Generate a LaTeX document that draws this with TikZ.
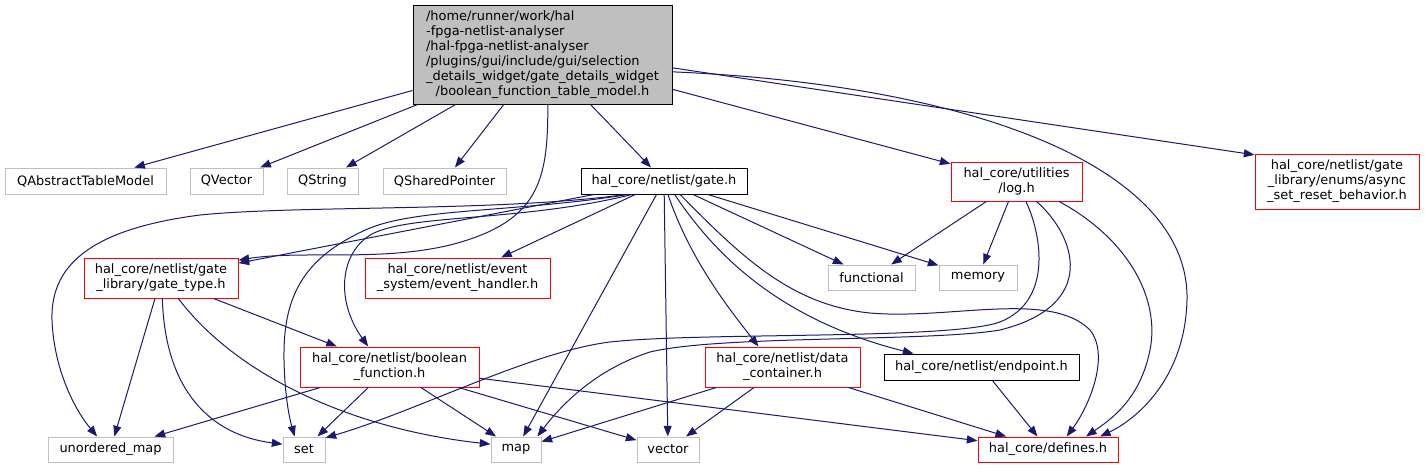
\documentclass[tikz,border=0pt]{standalone}
\usepackage{fontspec}
\setmainfont{DejaVu Sans}
\usepackage{xcolor}
\usepackage{tikz}
\usetikzlibrary{arrows.meta}
\definecolor{edgeblue}{HTML}{191970}
\definecolor{grey75}{HTML}{BFBFBF}

\begin{document}
\begin{tikzpicture}[
    x=0.75pt, y=-0.75pt,
    every node/.style={draw, inner sep=0pt, line width=0.75pt, align=center, font=\fontsize{9.7}{11.25}\selectfont},
    ext/.style={draw=grey75},
    hdr/.style={draw=red},
    known/.style={draw=black},
    dep/.style={draw=edgeblue, line width=0.75pt, -{Triangle[length=8pt,width=6pt]}}
]
\useasboundingbox (0,0) rectangle (1425,468);

\node[known, fill=grey75, align=left, minimum width=194.25pt, minimum height=74.25pt] (root) at (542.5,54.5)
    {/home/runner/work/hal\\-fpga-netlist-analyser\\/hal-fpga-netlist-analyser\\/plugins/gui/include/gui/selection\\\_details\_widget/gate\_details\_widget\\\hspace*{7.2pt}/boolean\_function\_table\_model.h};

\node[ext, minimum width=120.75pt, minimum height=19.5pt] (qatm) at (85.5,181) {QAbstractTableModel};
\node[ext, minimum width=54.75pt, minimum height=19.5pt] (qvec) at (226.5,181) {QVector};
\node[ext, minimum width=53.25pt, minimum height=19.5pt] (qstr) at (322.5,181) {QString};
\node[ext, minimum width=92.25pt, minimum height=19.5pt] (qsp) at (444.5,181) {QSharedPointer};
\node[known, minimum width=124.5pt, minimum height=19.5pt] (gate) at (664,181) {hal\_core/netlist/gate.h};
\node[hdr, minimum width=98.25pt, minimum height=29.25pt] (log) at (1016.5,181.5) {hal\_core/utilities\\/log.h};
\node[hdr, minimum width=123pt, minimum height=41.25pt] (async) at (1337,181.5)
    {hal\_core/netlist/gate\\\_library/enums/async\\\_set\_reset\_behavior.h};

\node[hdr, minimum width=115.5pt, minimum height=30pt] (gtype) at (161,278) {hal\_core/netlist/gate\\\_library/gate\_type.h};
\node[hdr, minimum width=138.75pt, minimum height=30pt] (event) at (457.5,278) {hal\_core/netlist/event\\\_system/event\_handler.h};
\node[ext, minimum width=65.25pt, minimum height=18.75pt] (func) at (871.5,277.5) {functional};
\node[ext, minimum width=58.5pt, minimum height=18.75pt] (mem) at (978,277.5) {memory};

\node[hdr, minimum width=134.25pt, minimum height=30pt] (boolf) at (389.5,367) {hal\_core/netlist/boolean\\\_function.h};
\node[hdr, minimum width=116.25pt, minimum height=30pt] (datac) at (782.5,367) {hal\_core/netlist/data\\\_container.h};
\node[known, minimum width=146.25pt, minimum height=19.5pt] (endp) at (981.5,367) {hal\_core/netlist/endpoint.h};

\node[ext, minimum width=93.75pt, minimum height=18.75pt] (umap) at (110.5,449.5) {unordered\_map};
\node[ext, minimum width=31.5pt, minimum height=18.75pt] (stdset) at (304,449.5) {set};
\node[ext, minimum width=37.5pt, minimum height=18.75pt] (stdmap) at (516,449.5) {map};
\node[ext, minimum width=46.5pt, minimum height=18.75pt] (stdvec) at (668,449.5) {vector};
\node[hdr, minimum width=105pt, minimum height=18.75pt] (defs) at (1048,449.5) {hal\_core/defines.h};

% includes of the model header
\draw[dep] (root) -- (qatm);
\draw[dep] (root) -- (qvec);
\draw[dep] (root) -- (qstr);
\draw[dep] (root) -- (qsp);
\draw[dep] (root) -- (gate);
\draw[dep] (root) -- (log);
\draw[dep] ([yshift=-10pt]root.east) -- ([yshift=-1pt]async.north west);
\draw[dep] ([yshift=-13pt]root.east) .. controls (980,85) and (1190,170) .. (1187,300)
    .. controls (1185,380) and (1135,420) .. ([xshift=39pt]defs.north);
\draw[dep] ([xshift=4pt]root.south) .. controls (548,180) and (540,222) .. (450,245)
    .. controls (380,262) and (300,250) .. ([yshift=-2pt]gtype.north east);

% gate.h
\draw[dep] ([xshift=-29pt]gate.south) .. controls (500,212) and (300,205) .. (200,215)
    .. controls (100,228) and (50,260) .. (52,320) .. controls (54,370) and (75,410) .. ([xshift=-10pt]umap.north);
\draw[dep] (gate) -- (gtype);
\draw[dep] ([xshift=-27pt]gate.south) .. controls (520,212) and (420,208) .. (370,228)
    .. controls (300,258) and (283,300) .. (284,360) .. controls (285,400) and (290,420) .. ([xshift=-7pt]stdset.north);
\draw[dep] ([xshift=-24pt]gate.south) .. controls (520,222) and (410,214) .. (372,234)
    .. controls (340,252) and (335,300) .. ([xshift=-16pt]boolf.north);
\draw[dep] (gate) -- (event);
\draw[dep] (gate) -- (stdmap);
\draw[dep] (gate) -- (stdvec);
\draw[dep] ([xshift=3pt]gate.south) .. controls (690,260) and (730,310) .. ([xshift=-18pt]datac.north);
\draw[dep] ([xshift=8pt]gate.south) .. controls (715,255) and (780,320) .. ([xshift=-51pt]endp.north);
\draw[dep] ([xshift=12pt]gate.south) .. controls (740,255) and (790,305) .. (870,313)
    .. controls (950,320) and (1050,290) .. (1090,330) .. controls (1110,355) and (1090,405) .. ([xshift=14pt]defs.north);
\draw[dep] (gate) -- (func);
\draw[dep] (gate) -- (mem);

% log.h
\draw[dep] (log) -- (func);
\draw[dep] (log) -- (mem);
\draw[dep] ([xshift=7pt]log.south) .. controls (1040,230) and (1055,300) .. (1000,322)
    .. controls (950,340) and (700,332) .. (610,342) .. controls (530,352) and (420,410) .. ([yshift=-1pt]stdset.north east);
\draw[dep] ([xshift=15pt]log.south) .. controls (1075,235) and (1100,305) .. (1000,330)
    .. controls (930,342) and (720,335) .. (650,352) .. controls (600,368) and (565,400) .. ([xshift=16pt]stdmap.north);
\draw[dep] ([xshift=32pt]log.south) .. controls (1130,240) and (1160,300) .. (1150,350)
    .. controls (1140,400) and (1110,420) .. ([xshift=28.5pt]defs.north);

% gate_type.h
\draw[dep] (gtype) -- (umap);
\draw[dep] ([xshift=1pt]gtype.south) .. controls (165,390) and (210,435) .. ([yshift=4pt]stdset.west);
\draw[dep] ([xshift=13pt]gtype.south) .. controls (240,380) and (360,430) .. ([yshift=4pt]stdmap.west);
\draw[dep] (gtype) -- (boolf);

% boolean_function.h
\draw[dep] (boolf) -- (umap);
\draw[dep] (boolf) -- (stdset);
\draw[dep] (boolf) -- (stdmap);
\draw[dep] (boolf) -- (stdvec);
\draw[dep] (boolf) -- (defs);

% data_container.h and endpoint.h
\draw[dep] (datac) -- (stdmap);
\draw[dep] (datac) -- (stdvec);
\draw[dep] (datac) -- (defs);
\draw[dep] (endp) -- (defs);
\end{tikzpicture}
\end{document}
